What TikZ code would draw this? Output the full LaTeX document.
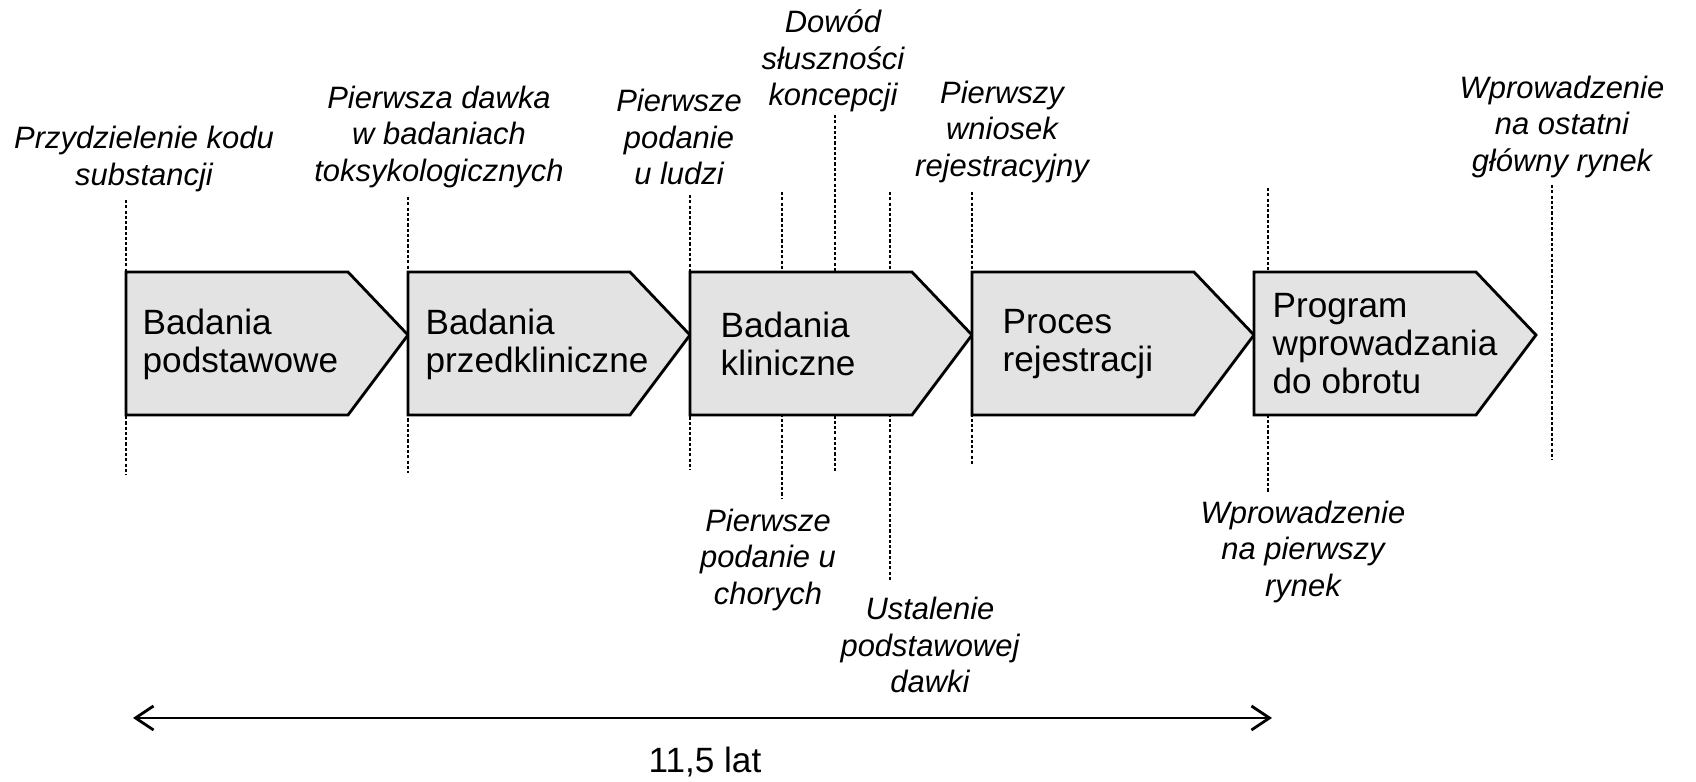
\documentclass[tikz,border=0pt]{standalone}
\usepackage{fontspec}
\setmainfont{Liberation Sans}
\usetikzlibrary{arrows.meta}
\tikzset{>={Straight Barb[length=1.8mm,width=2.4mm]}}
\colorlet{boxfill}{black!11}
\tikzstyle{phasebox}=[draw=black,line width=0.8pt,fill=boxfill,line join=miter]
\tikzstyle{phasetext}=[anchor=west,align=left,inner sep=0,font=\fontsize{10}{10.8}\selectfont]
\tikzstyle{milestone}=[align=center,inner sep=0,font=\fontsize{8.8}{10.4}\selectfont\itshape]
\tikzstyle{markline}=[line width=0.65pt,dash pattern=on 0.9pt off 0.6pt]
\def\phase#1{\draw[phasebox] (#1,\ybot) --++ (\bodyL,0) -- ({#1+\bodyL+\tipL},\ytip) -- ({#1+\bodyL},\ytop) -- (#1,\ytop) -- cycle}
\def\mline#1#2#3#4{\coordinate (#1t) at (#2,#3); \coordinate (#1b) at (#2,#4); \draw[markline] (#1t) -- (#1b)}

\begin{document}
\begin{tikzpicture}
  \def\ytop{5.10}  % top of phase arrows
  \def\ybot{3.67}  % bottom of phase arrows
  \def\ytip{4.47}  % height of arrow tips
  \def\bodyL{2.22} % length of straight part
  \def\tipL{0.60}  % length of tip
  \def\ytxt{4.38}  % height of phase texts

  \useasboundingbox (0,0) rectangle (16.96,7.82);

  % MILESTONE LINES
  \mline{m1}{1.26}{5.82}{3.07};
  \mline{m2}{4.08}{5.85}{3.09};
  \mline{m3}{6.90}{5.87}{3.12};
  \mline{m4}{7.82}{5.90}{2.84};
  \mline{m5}{8.35}{6.67}{3.09};
  \mline{m6}{8.90}{5.90}{2.02};
  \mline{m7}{9.72}{5.90}{3.17};
  \mline{m8}{12.68}{5.94}{2.89};
  \mline{m9}{15.52}{5.97}{3.22};

  % PHASES
  \phase{1.26};
  \phase{4.08};
  \phase{6.90};
  \phase{9.72};
  \phase{12.54};
  \node[phasetext] (basic) at (1.42,\ytxt) {Badania\\podstawowe};
  \node[phasetext] (preclin) at (4.25,\ytxt) {Badania\\przedkliniczne};
  \node[phasetext] (clin) at (7.20,\ytxt) {Badania\\kliniczne};
  \node[phasetext] (regist) at (10.02,\ytxt) {Proces\\rejestracji};
  \node[phasetext] (launch) at (12.72,\ytxt) {Program\\wprowadzania\\do obrotu};

  % MILESTONE LABELS
  \node[milestone] (code) at (1.44,6.23) {Przydzielenie kodu\\substancji};
  \node[milestone] (tox) at (4.39,6.45) {Pierwsza dawka\\w badaniach\\toksykologicznych};
  \node[milestone] (human) at (6.79,6.45) {Pierwsze\\podanie\\u ludzi};
  \node[milestone] (proof) at (8.33,7.21) {Dowód\\słuszności\\koncepcji};
  \node[milestone] (filing) at (10.02,6.50) {Pierwszy\\wniosek\\rejestracyjny};
  \node[milestone] (lastmkt) at (15.62,6.55) {Wprowadzenie\\na ostatni\\główny rynek};
  \node[milestone] (patient) at (7.68,2.22) {Pierwsze\\podanie u\\chorych};
  \node[milestone] (dose) at (9.30,1.37) {Ustalenie\\podstawowej\\dawki};
  \node[milestone] (firstmkt) at (13.03,2.30) {Wprowadzenie\\na pierwszy\\rynek};

  % DURATION
  \coordinate (d0) at (1.33,0.64);
  \coordinate (d1) at (12.72,0.64);
  \draw[<->,line width=0.8pt] (d0) -- (d1);
  \node[font=\fontsize{10}{12}\selectfont] (dur) at (7.05,0.20) {11,5 lat};

\end{tikzpicture}
\end{document}
